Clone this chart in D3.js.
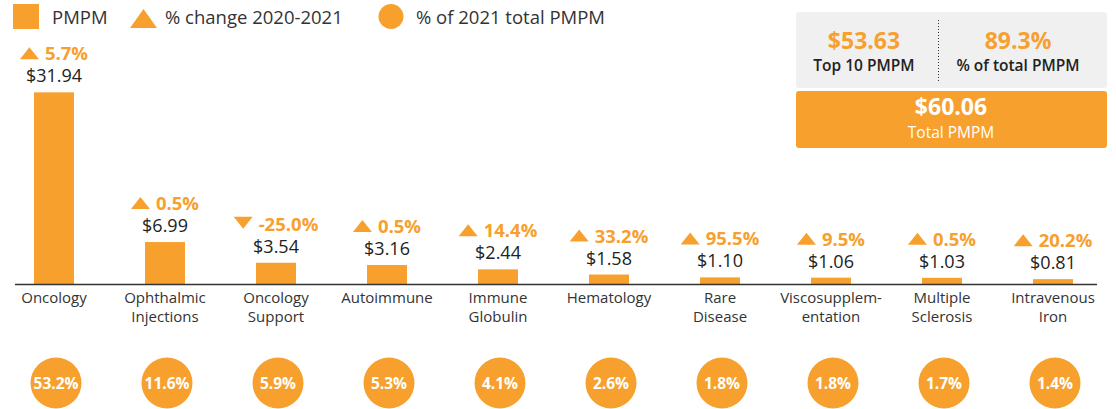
<!DOCTYPE html>
<html>
  <head>
    <meta charset="utf-8">
    <script src="https://d3js.org/d3.v7.min.js"></script>
    <title>Top 10 PMPM</title>
    <style>
      body {
        margin: 0;
        font-family: 'Open Sans', sans-serif;
        background: #fff;
      }
      text {
        fill: #222;
      }
    </style>
  </head>
  <body>
    <svg id="chart" width="1116" height="409"></svg>
    <script>
      const categories = [
        ['Oncology'], ['Ophthalmic', 'Injections'], ['Oncology', 'Support'], ['Autoimmune'],
        ['Immune', 'Globulin'], ['Hematology'], ['Rare', 'Disease'],
        ['Viscosupplem-', 'entation'], ['Multiple', 'Sclerosis'], ['Intravenous', 'Iron']
      ];
      const pmpm = [31.94, 6.99, 3.54, 3.16, 2.44, 1.58, 1.10, 1.06, 1.03, 0.81];
      const change = [5.7, 0.5, -25.0, 0.5, 14.4, 33.2, 95.5, 9.5, 0.5, 20.2];
      const share = [53.2, 11.6, 5.9, 5.3, 4.1, 2.6, 1.8, 1.8, 1.7, 1.4];
      const legendLabels = ['PMPM', '% change 2020-2021', '% of 2021 total PMPM'];
      const top10Pmpm = 53.63;
      const top10Share = 89.3;
      const totalPmpm = 60.06;

      const orange = '#f7a02d';
      const svg = d3.select('#chart');
      const keys = categories.map(c => c.join(' '));
      const data = keys.map((k, i) => ({ key: k, lines: categories[i], pmpm: pmpm[i], change: change[i], share: share[i] }));

      const baseY = 284;
      const xScale = d3.scaleBand().domain(keys).range([-1.5, 1108.5]).paddingInner(0.64).paddingOuter(0.32);
      const yScale = d3.scaleLinear().domain([0, 32]).range([baseY, baseY - 192]);
      const cx = d => xScale(d.key) + xScale.bandwidth() / 2;
      const money = d3.format('$.2f');

      // bars
      svg.append('g').selectAll('rect').data(data).enter().append('rect')
        .attr('x', d => xScale(d.key))
        .attr('y', d => yScale(d.pmpm))
        .attr('width', xScale.bandwidth())
        .attr('height', d => baseY - yScale(d.pmpm))
        .attr('fill', orange);

      svg.append('line')
        .attr('x1', 15).attr('x2', 1097)
        .attr('y1', baseY + 0.5).attr('y2', baseY + 0.5)
        .attr('stroke', '#333').attr('stroke-width', 1.3);

      // value labels
      svg.append('g').selectAll('text').data(data).enter().append('text')
        .attr('x', cx)
        .attr('y', d => yScale(d.pmpm) - 10)
        .attr('text-anchor', 'middle')
        .style('font-size', '18px')
        .text(d => money(d.pmpm));

      // % change labels with arrows
      const chg = svg.append('g').selectAll('g').data(data).enter().append('g');
      chg.each(function (d) {
        const g = d3.select(this);
        const y = yScale(d.pmpm) - 32;
        const t = g.append('text')
          .attr('y', y)
          .style('font-size', '18.5px')
          .style('font-weight', 700)
          .style('fill', orange)
          .text(d.change.toFixed(1) + '%');
        const tw = t.node().getComputedTextLength();
        const triW = 19, gap = 6;
        const x0 = cx(d) - (triW + gap + tw) / 2;
        t.attr('x', x0 + triW + gap);
        const pts = d.change >= 0
          ? [[x0, y - 1], [x0 + triW, y - 1], [x0 + triW / 2, y - 13]]
          : [[x0, y - 14], [x0 + triW, y - 14], [x0 + triW / 2, y - 2]];
        g.append('polygon').attr('points', pts.map(p => p.join(',')).join(' ')).attr('fill', orange);
      });

      // category labels
      const cat = svg.append('g').selectAll('text').data(data).enter().append('text')
        .attr('x', cx)
        .attr('y', baseY + 19)
        .attr('text-anchor', 'middle')
        .style('font-size', '15px')
        .style('fill', '#333');
      cat.selectAll('tspan').data(d => d.lines.map(l => ({ l, x: cx(d) }))).enter().append('tspan')
        .attr('x', t => t.x)
        .attr('dy', (t, i) => i ? 19 : 0)
        .text(t => t.l);

      // share circles
      const sh = svg.append('g').selectAll('g').data(data).enter().append('g')
        .attr('transform', d => `translate(${cx(d) + 2},383)`);
      sh.append('circle').attr('r', 25.5).attr('fill', orange);
      sh.append('text')
        .attr('y', 5.5)
        .attr('text-anchor', 'middle')
        .style('font-size', '15.5px')
        .style('font-weight', 700)
        .style('fill', '#fff')
        .text(d => d.share.toFixed(1) + '%');

      // legend
      const lg = svg.append('g');
      lg.append('rect').attr('x', 13).attr('y', 4).attr('width', 26).attr('height', 25).attr('fill', orange);
      lg.append('polygon').attr('points', '130,28 157,28 143.5,9').attr('fill', orange);
      lg.append('circle').attr('cx', 391).attr('cy', 16.5).attr('r', 12.5).attr('fill', orange);
      lg.selectAll('text').data(legendLabels).enter().append('text')
        .attr('x', (d, i) => [52, 165, 416][i])
        .attr('y', 24)
        .style('font-size', '18.5px')
        .style('fill', '#333')
        .text(d => d);

      // summary box
      const sb = svg.append('g');
      sb.append('rect').attr('x', 796).attr('y', 12).attr('width', 311).attr('height', 76).attr('rx', 3).attr('fill', '#f0f0f0');
      sb.append('rect').attr('x', 796).attr('y', 91).attr('width', 311).attr('height', 57).attr('rx', 3).attr('fill', orange);
      sb.append('line').attr('x1', 938.5).attr('x2', 938.5).attr('y1', 20).attr('y2', 82)
        .attr('stroke', '#333').attr('stroke-width', 1).attr('stroke-dasharray', '1,2');
      const big = [
        { x: 864, y: 49, t: money(top10Pmpm), c: orange },
        { x: 1018, y: 49, t: top10Share.toFixed(1) + '%', c: orange },
        { x: 951, y: 115, t: money(totalPmpm), c: '#fff' }
      ];
      sb.selectAll('text.big').data(big).enter().append('text')
        .attr('class', 'big')
        .attr('x', d => d.x).attr('y', d => d.y)
        .attr('text-anchor', 'middle')
        .style('font-size', '23px').style('font-weight', 700)
        .style('fill', d => d.c)
        .text(d => d.t);
      const small = [
        { x: 864, y: 71, t: 'Top 10 PMPM', c: '#222', w: 600 },
        { x: 1018, y: 71, t: '% of total PMPM', c: '#222', w: 600 },
        { x: 951, y: 138, t: 'Total PMPM', c: '#fff', w: 400 }
      ];
      sb.selectAll('text.small').data(small).enter().append('text')
        .attr('class', 'small')
        .attr('x', d => d.x).attr('y', d => d.y)
        .attr('text-anchor', 'middle')
        .style('font-size', '15.5px').style('font-weight', d => d.w)
        .style('fill', d => d.c)
        .text(d => d.t);
    </script>
  </body>
</html>
